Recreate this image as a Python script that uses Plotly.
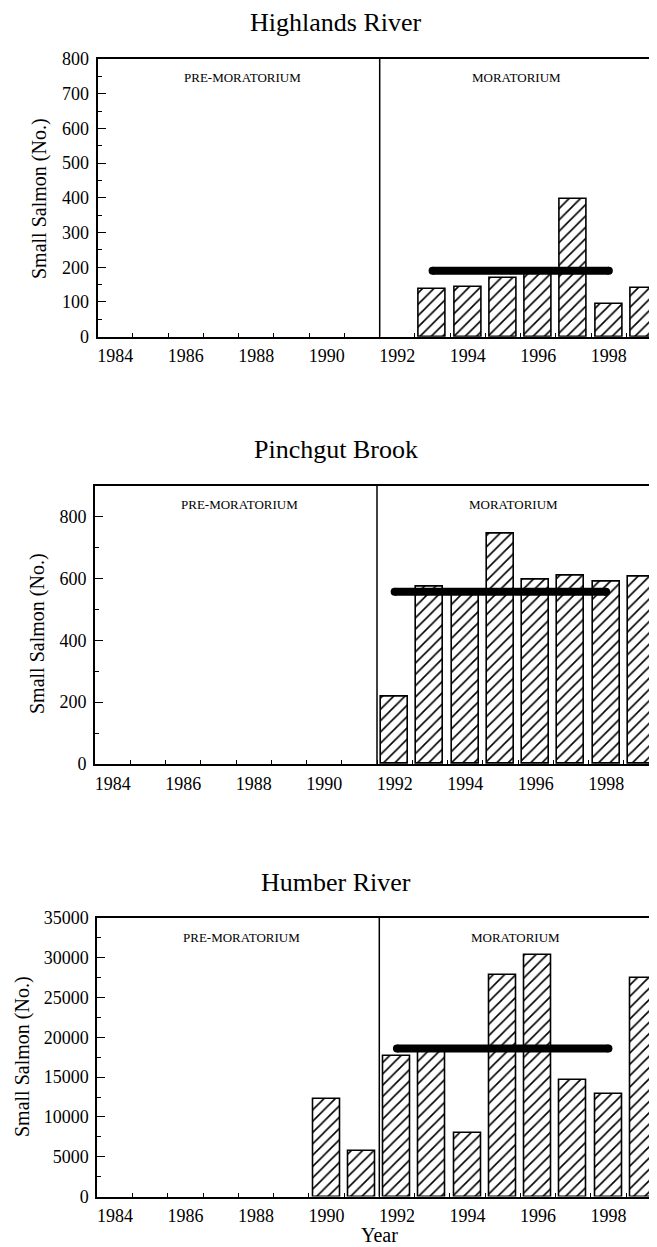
import plotly.graph_objects as go

# Highlands River
hl_years = [1993, 1994, 1995, 1996, 1997, 1998, 1999]
hl_salmon = [137, 142, 168, 185, 396, 93, 141]
hl_mean_years = [1993, 1998]
hl_mean = 190

# Pinchgut Brook
pb_years = [1992, 1993, 1994, 1995, 1996, 1997, 1998, 1999]
pb_salmon = [219, 574, 555, 746, 597, 610, 590, 606]
pb_mean_years = [1992, 1998]
pb_mean = 557

# Humber River
hu_years = [1990, 1991, 1992, 1993, 1994, 1995, 1996, 1997, 1998, 1999]
hu_salmon = [12200, 5700, 17600, 18500, 8000, 27900, 30300, 14700, 12900, 27500]
hu_mean_years = [1992, 1998]
hu_mean = 18600

year_labels = [1984, 1986, 1988, 1990, 1992, 1994, 1996, 1998]
boundaries = [y + 0.5 for y in range(1984, 1999)]

FONT = 'Liberation Serif, Times New Roman, serif'
PAGE_W, PAGE_H = 657, 1247
OFF = 8  # default body margin of the html page
W, H = PAGE_W - OFF, PAGE_H - OFF
PX_PER_YEAR = 35.25


def px(x):
    return (x - OFF) / W


def py(y):
    return 1 - (y - OFF) / H


panels = [
    # title, years, values, mean years, mean, ymax, major, minor, left, top, bottom, title y, ytitle x, ytitle y
    ('Highlands River', hl_years, hl_salmon, hl_mean_years, hl_mean, 800, 100, 50, 97.7, 59, 336.7, 22, 39, 199),
    ('Pinchgut Brook', pb_years, pb_salmon, pb_mean_years, pb_mean, 900, 200, 100, 95, 485.7, 764, 450, 37, 634),
    ('Humber River', hu_years, hu_salmon, hu_mean_years, hu_mean, 35000, 5000, 2500, 97.3, 918, 1196.5, 882, 22, 1057),
]

fig = go.Figure()
annotations = []
shapes = []

for i, (title, yrs, vals, myrs, mval, ymax, major, minor, left, top, bottom, ty, ytx, yty) in enumerate(panels):
    n = '' if i == 0 else str(i + 1)
    xa, ya = 'x' + n, 'y' + n

    fig.add_trace(go.Bar(
        x=yrs, y=vals, width=0.76,
        marker=dict(color='white', line=dict(color='black', width=1.6),
                    pattern=dict(shape='/', fgcolor='black', bgcolor='white', size=8, solidity=0.2)),
        xaxis=xa, yaxis=ya, showlegend=False,
    ))
    fig.add_trace(go.Scatter(
        x=myrs, y=[mval, mval], mode='lines+markers',
        line=dict(color='black', width=8),
        marker=dict(color='black', size=8),
        xaxis=xa, yaxis=ya, showlegend=False,
    ))

    x0 = 1983.5
    x1 = x0 + (PAGE_W - left) / PX_PER_YEAR

    fig.layout['xaxis' + n] = dict(
        domain=[px(left), 1], range=[x0, x1], anchor=ya, automargin=False,
        tickvals=year_labels, ticks='', showgrid=False, zeroline=False,
        showline=True, linecolor='black', linewidth=2, mirror=True,
        tickfont=dict(family=FONT, size=18, color='black'),
        minor=dict(tickvals=boundaries, ticks='inside', ticklen=4, tickwidth=1.2, tickcolor='black'),
        ticklabelstandoff=2,
    )
    fig.layout['yaxis' + n] = dict(
        domain=[py(bottom), py(top)], range=[0, ymax], anchor=xa, automargin=False,
        tick0=0, dtick=major, tickformat='d',
        ticks='inside', ticklen=8, tickwidth=1.2, tickcolor='black',
        showgrid=False, zeroline=False,
        showline=True, linecolor='black', linewidth=2,
        tickfont=dict(family=FONT, size=18, color='black'),
        minor=dict(dtick=minor, ticks='inside', ticklen=4, tickwidth=1.2, tickcolor='black'),
        ticklabelstandoff=3,
    )

    shapes.append(dict(type='line', xref=xa, yref=ya + ' domain', x0=1991.5, x1=1991.5, y0=0, y1=1,
                       line=dict(color='black', width=1.5)))

    annotations += [
        dict(text=title, xref='paper', yref='paper', x=px(335.7), y=py(ty),
             font=dict(family=FONT, size=26, color='black')),
        dict(text='PRE-MORATORIUM', xref=xa, yref=ya + ' domain', x=1987.6, y=1 - 19 / 278,
             font=dict(family=FONT, size=13, color='black')),
        dict(text='MORATORIUM', xref=xa, yref=ya + ' domain', x=1995.37, y=1 - 19 / 278,
             font=dict(family=FONT, size=13, color='black')),
        dict(text='Small Salmon (No.)', xref='paper', yref='paper', x=px(ytx), y=py(yty),
             textangle=-90, font=dict(family=FONT, size=20, color='black')),
    ]

annotations.append(dict(text='Year', xref='paper', yref='paper', x=px(380), y=py(1235),
                        font=dict(family=FONT, size=20, color='black')))

for a in annotations:
    a.update(showarrow=False, xanchor='center', yanchor='middle')

fig.update_layout(
    template='none',
    width=W, height=H,
    margin=dict(l=0, r=0, t=0, b=0),
    paper_bgcolor='white', plot_bgcolor='white',
    bargap=0,
    annotations=annotations, shapes=shapes,
)

fig.write_html('out.html')
